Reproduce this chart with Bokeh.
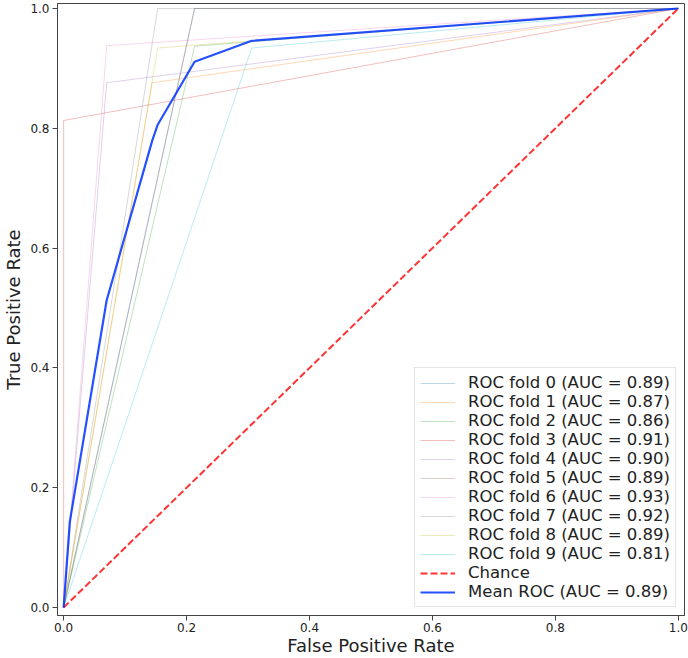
from bokeh.plotting import figure
from bokeh.models import Range1d, FixedTicker, PrintfTickFormatter, Legend, LegendItem
from bokeh.embed import file_html
from bokeh.resources import INLINE

# ---- data ----
fold_names = ["ROC fold 0", "ROC fold 1", "ROC fold 2", "ROC fold 3", "ROC fold 4",
              "ROC fold 5", "ROC fold 6", "ROC fold 7", "ROC fold 8", "ROC fold 9"]
fold_auc = [0.89, 0.87, 0.86, 0.91, 0.90, 0.89, 0.93, 0.92, 0.89, 0.81]
fold_fpr = [[0.0, 0.213, 1.0], [0.0, 0.144, 1.0], [0.0, 0.213, 1.0], [0.0, 0.0, 1.0],
            [0.0, 0.070, 1.0], [0.0, 0.213, 1.0], [0.0, 0.070, 1.0], [0.0, 0.153, 1.0],
            [0.0, 0.153, 1.0], [0.0, 0.306, 1.0]]
fold_tpr = [[0.0, 1.000, 1.0], [0.0, 0.876, 1.0], [0.0, 0.937, 1.0], [0.0, 0.813, 1.0],
            [0.0, 0.876, 1.0], [0.0, 1.000, 1.0], [0.0, 0.938, 1.0], [0.0, 1.000, 1.0],
            [0.0, 0.934, 1.0], [0.0, 0.934, 1.0]]
fold_colors = ["#1f77b4", "#ff7f0e", "#2ca02c", "#d62728", "#9467bd",
               "#8c564b", "#e377c2", "#7f7f7f", "#bcbd22", "#17becf"]

chance_x = [0.0, 1.0]
chance_y = [0.0, 1.0]

mean_fpr = [0.0, 0.010, 0.070, 0.144, 0.153, 0.213, 0.306, 1.0]
mean_tpr = [0.0, 0.143, 0.513, 0.779, 0.806, 0.911, 0.946, 1.0]
mean_auc = 0.89

x_ticks = [0.0, 0.2, 0.4, 0.6, 0.8, 1.0]
y_ticks = [0.0, 0.2, 0.4, 0.6, 0.8, 1.0]
x_title = "False Positive Rate"
y_title = "True Positive Rate"

FONT = "DejaVu Sans"

p = figure(width=688, height=658, output_backend="svg", toolbar_location=None,
           x_range=Range1d(-0.01, 1.01), y_range=Range1d(-0.0133, 1.0083),
           min_border_left=54, min_border_right=4, min_border_top=3, min_border_bottom=0)
p.grid.visible = False
p.outline_line_color = "#444444"
p.outline_line_width = 1
p.background_fill_color = "white"
p.border_fill_color = "white"

items = []
for i in range(len(fold_names)):
    r = p.line(fold_fpr[i], fold_tpr[i], line_color=fold_colors[i], line_alpha=0.3, line_width=1)
    items.append(LegendItem(label="%s (AUC = %.2f)" % (fold_names[i], fold_auc[i]), renderers=[r]))

rc = p.line(chance_x, chance_y, line_color="red", line_alpha=0.8, line_width=2, line_dash="7 3")
items.append(LegendItem(label="Chance", renderers=[rc]))

rm = p.line(mean_fpr, mean_tpr, line_color="#0033ff", line_alpha=0.85, line_width=2.2)
items.append(LegendItem(label="Mean ROC (AUC = %.2f)" % mean_auc, renderers=[rm]))

legend = Legend(items=items, location="bottom_right")
legend.label_text_font = FONT
legend.label_text_font_size = "16.5px"
legend.label_text_line_height = 0.9
legend.label_text_color = "#222222"
legend.label_height = 16
legend.glyph_height = 16
legend.glyph_width = 35
legend.label_standoff = 13
legend.spacing = -1
legend.padding = 5
legend.margin = 8
legend.border_line_color = "#cccccc"
legend.border_line_width = 1
legend.background_fill_color = "white"
legend.background_fill_alpha = 0.85
p.add_layout(legend)

for ax in (p.xaxis[0], p.yaxis[0]):
    ax.axis_line_color = "#444444"
    ax.major_tick_line_color = "#444444"
    ax.major_tick_out = 5
    ax.major_tick_in = 0
    ax.minor_tick_line_color = None
    ax.major_label_text_font = FONT
    ax.major_label_text_font_size = "12px"
    ax.major_label_text_color = "#222222"
    ax.major_label_text_line_height = 1.0
    ax.major_label_standoff = 3
    ax.axis_label_text_font = FONT
    ax.axis_label_text_font_size = "18px"
    ax.axis_label_text_font_style = "normal"
    ax.axis_label_text_color = "#222222"
    ax.axis_label_text_line_height = 0.9
    ax.formatter = PrintfTickFormatter(format="%.1f")

p.xaxis[0].ticker = FixedTicker(ticks=x_ticks)
p.yaxis[0].ticker = FixedTicker(ticks=y_ticks)
p.xaxis[0].axis_label = x_title
p.yaxis[0].axis_label = y_title
p.xaxis[0].major_label_standoff = 2
p.xaxis[0].axis_label_standoff = 0
p.yaxis[0].axis_label_standoff = 3

open("out.html", "w").write(file_html(p, INLINE))
